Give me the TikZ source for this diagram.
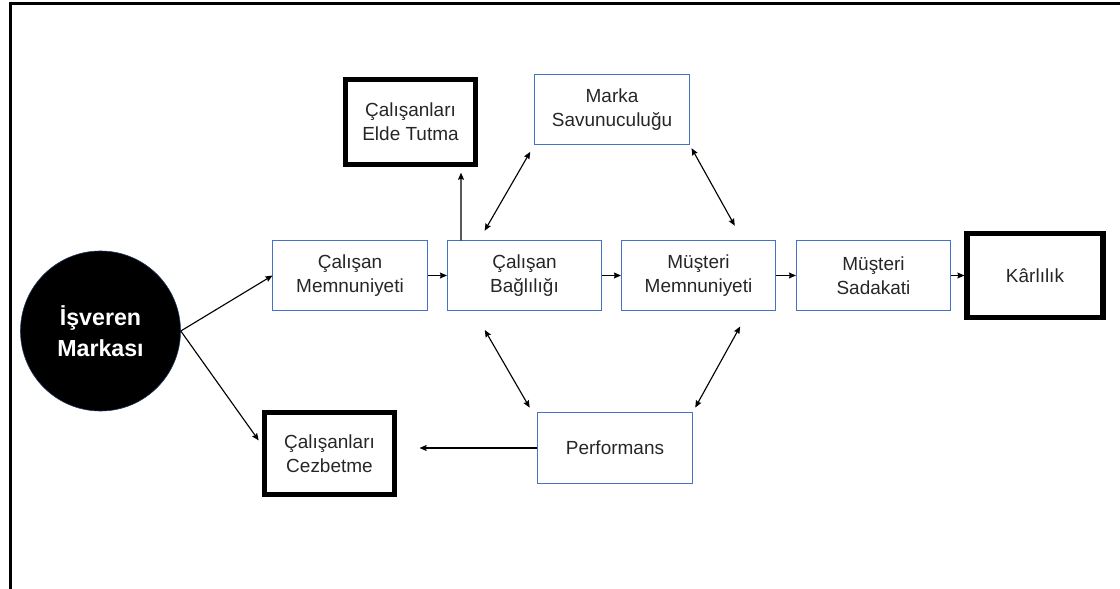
\documentclass[tikz,border=0pt]{standalone}
\usepackage{fontspec}
\setmainfont{Liberation Sans}
\usetikzlibrary{shapes.geometric, arrows.meta}
\definecolor{boxblue}{RGB}{68,114,196}
\definecolor{txt}{RGB}{38,38,38}
\tikzstyle{factor} = [rectangle, align=center, text=txt, draw=boxblue, line width=0.7pt, minimum width=3.85cm, minimum height=1.725cm, font=\fontsize{13.5}{17}\selectfont]
\tikzstyle{outcome} = [rectangle, align=center, text=txt, draw=black, line width=3.6pt, minimum width=3.25cm, minimum height=2.1cm, font=\fontsize{13.5}{17}\selectfont]
\tikzstyle{brand} = [circle, align=center, fill=black, draw=boxblue!50!black, text=white, minimum size=4cm, font=\bfseries\fontsize{16.5}{22}\selectfont]
\tikzstyle{arrow} = [line width=0.8pt,->,>={Stealth[length=5pt,width=4.2pt,inset=0.6pt]}]
\tikzstyle{link} = [line width=0.8pt,<->,>={Stealth[length=5pt,width=4.2pt,inset=0.6pt]}]

\begin{document}
\begin{tikzpicture}[x=0.025cm, y=-0.025cm]
\useasboundingbox (0,0) rectangle (1120,589);
\draw[line width=2.2pt] (10.5,589) -- (10.5,3.5) -- (1120,3.5);

\node (isv) [brand] at (100.5,331) {İşveren\\Markası};
\node (cmem) [factor] at (350,275.5) {Çalışan\\Memnuniyeti};
\node (cbag) [factor] at (524.5,275.5) {Çalışan\\Bağlılığı};
\node (mmem) [factor] at (698.5,275.5) {Müşteri\\Memnuniyeti};
\node (msad) [factor] at (873.5,275.5) {Müşteri\\Sadakati};
\node (karl) [outcome, minimum width=3.4cm] at (1035,275.5) {Kârlılık};
\node (elde) [outcome, minimum height=2.125cm] at (410.5,122) {Çalışanları\\Elde Tutma};
\node (marka) [factor] at (612,109.5) {Marka\\Savunuculuğu};
\node (perf) [factor, minimum height=1.75cm] at (615,448) {Performans};
\node (cezb) [outcome, minimum height=2.05cm] at (329.5,453.5) {Çalışanları\\Cezbetme};

\draw [arrow] (isv.east) -- (cmem.west);
\draw [arrow, shorten >=4pt] (isv.east) -- ([shift={(0,-8.5)}]cezb.west);
\draw [arrow] (cmem) -- (cbag);
\draw [arrow] (cbag) -- (mmem);
\draw [arrow] (mmem) -- (msad);
\draw [arrow] (msad) -- (karl);
\draw [arrow, shorten >=4pt] ([shift={(-63.5,0)}]cbag.north) -- ([shift={(50.5,0)}]elde.south);
\draw [link, shorten <=8pt, shorten >=6pt] ([shift={(-45.5,0)}]cbag.north) -- (marka.south west);
\draw [link, shorten <=3pt, shorten >=12pt] (marka.south east) -- ([shift={(44.5,0)}]mmem.north);
\draw [link, shorten <=16pt, shorten >=4pt] ([shift={(-51,0)}]cbag.south) -- ([shift={(-5,0)}]perf.north west);
\draw [link, shorten <=13pt, shorten >=4pt] ([shift={(50.5,0)}]mmem.south) -- (perf.north east);
\draw [arrow, shorten >=16pt] (perf.west) -- (perf.west -| cezb.east);

\end{tikzpicture}
\end{document}
